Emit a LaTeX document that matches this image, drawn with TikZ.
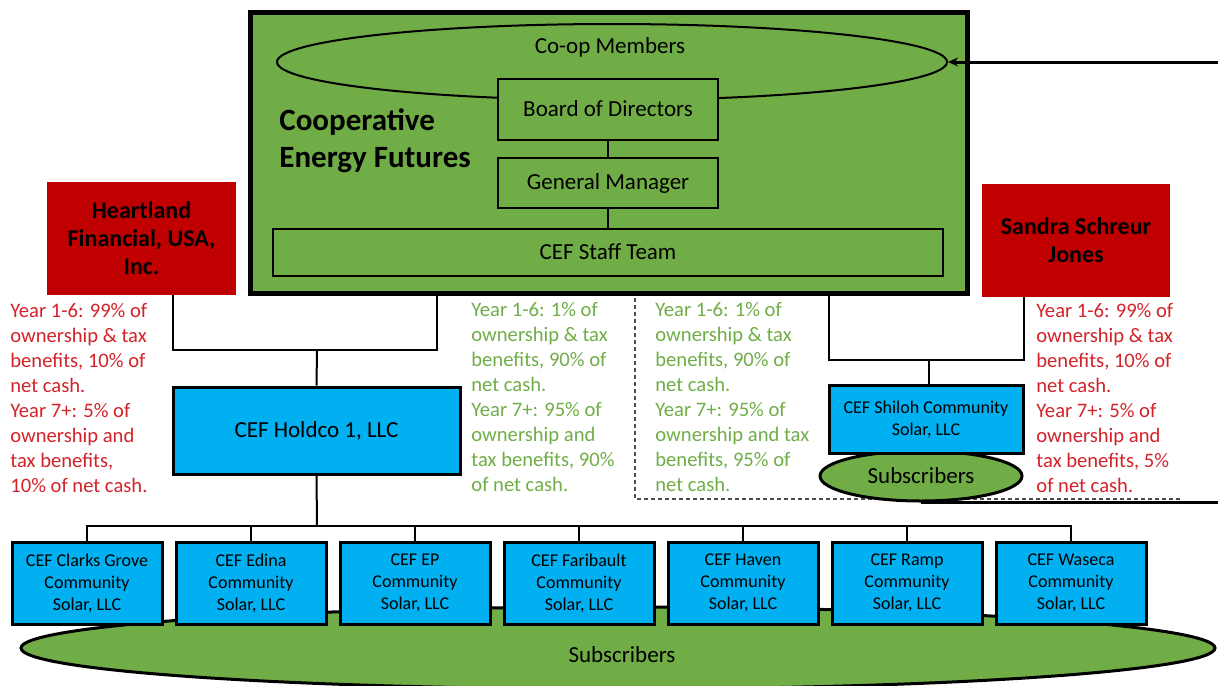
\documentclass[tikz,border=0pt]{standalone}
\usepackage{fontspec}
\setmainfont{Carlito}
\usetikzlibrary{arrows.meta, shapes.geometric}
\definecolor{cefgreen}{HTML}{70AD47}
\definecolor{cefblue}{HTML}{00B0F0}
\definecolor{cefred}{HTML}{C00000}
\definecolor{notered}{HTML}{D2232A}
\definecolor{notegreen}{HTML}{70AD47}
\tikzset{
    >=Stealth,
    orgbox/.style={draw, fill=cefgreen, line width=1pt, inner sep=0pt, font=\fontsize{11.5}{14}\selectfont},
    llcbox/.style={draw, fill=cefblue, line width=1.5pt, inner sep=0pt, align=center, font=\fontsize{9}{11}\selectfont},
    partner/.style={fill=cefred, inner sep=0pt, align=center, font=\fontsize{12}{14}\selectfont\bfseries},
    share/.style={anchor=north west, inner sep=0pt, align=left, font=\fontsize{10.3}{12.5}\selectfont},
    crowd/.style={ellipse, draw, fill=cefgreen, line width=1.5pt, inner sep=0pt, font=\fontsize{11.5}{14}\selectfont},
    link/.style={line width=1pt}
}

\begin{document}
\begin{tikzpicture}[x=0.5pt, y=-0.5pt]

    \useasboundingbox (0,0) rectangle (1218,685);
    \clip (0,0) rectangle (1218,685);

    % the cooperative itself
    \node[draw, fill=cefgreen, line width=2.5pt, inner sep=0pt,
        minimum width=358.5pt, minimum height=140.5pt] (cef) at (609,152.5) {};
    \node[crowd, line width=1pt, minimum width=335pt, minimum height=38pt] (members) at (612,62) {};
    \node[font=\fontsize{11.5}{14}\selectfont] (memberstext) at (610,47) {Co-op Members};
    \node[orgbox, minimum width=110pt, minimum height=30.5pt] (board) at (608,109) {Board of Directors};
    \node[orgbox, minimum width=110pt, minimum height=25pt] (gm) at (608,183) {General Manager};
    \node[orgbox, minimum width=335pt, minimum height=23.5pt] (staff) at (608,252) {CEF Staff Team};
    \node[anchor=west, align=left, inner sep=0pt, font=\fontsize{15.5}{18.5}\selectfont\bfseries]
        (ceftitle) at (279,141) {Cooperative\\Energy Futures};
    \draw[link] (board) -- (gm);
    \draw[link] (gm) -- (staff);

    % investors
    \node[partner, minimum width=94.5pt, minimum height=56.5pt] (hfin) at (141.5,238.5) {Heartland\\Financial, USA,\\Inc.};
    \node[partner, minimum width=94pt, minimum height=56.5pt] (sandra) at (1076,240.5) {Sandra Schreur\\Jones};

    \node[share, text=notered] (hfinshare) at (10,303)
        {Year 1-6: 99\% of\\ownership \& tax\\benefits, 10\% of\\net cash.\\Year 7+: 5\% of\\ownership and\\tax benefits,\\10\% of net cash.};
    \node[share, text=notegreen] (cefshare) at (471,302)
        {Year 1-6: 1\% of\\ownership \& tax\\benefits, 90\% of\\net cash.\\Year 7+: 95\% of\\ownership and\\tax benefits, 90\%\\of net cash.};
    \node[share, text=notegreen] (cefshilohshare) at (655,302)
        {Year 1-6: 1\% of\\ownership \& tax\\benefits, 90\% of\\net cash.\\Year 7+: 95\% of\\ownership and tax\\benefits, 95\% of\\net cash.};
    \node[share, text=notered] (sandrashare) at (1036,303)
        {Year 1-6: 99\% of\\ownership \& tax\\benefits, 10\% of\\net cash.\\Year 7+: 5\% of\\ownership and\\tax benefits, 5\%\\of net cash.};

    % holding company
    \node[llcbox, minimum width=143.5pt, minimum height=43.5pt, font=\fontsize{11.5}{14}\selectfont]
        (holdco) at (316.5,430.5) {CEF Holdco 1, LLC};
    \coordinate (hjoin) at (317,350);
    \draw[link] (hfin.south -| 173,0) |- (hjoin) -| (cef.south -| 437,0);
    \draw[link] (hjoin) -- (holdco.north);

    % Shiloh
    \draw[dashed, line width=0.6pt, gray!60!black, dash pattern=on 2pt off 1.5pt] (635,298) |- (1183,499);
    \coordinate (rimlow) at (1218,501);
    \coordinate (rimhigh) at (1218,62);
    \node[crowd, minimum width=101pt, minimum height=25pt] (localsubs) at (921,476) {Subscribers};
    \draw[line width=1.5pt] (localsubs.south) -- (localsubs.south -| rimlow);
    \node[llcbox, minimum width=97pt, minimum height=34pt] (shiloh) at (926,419) {CEF Shiloh Community\\Solar, LLC};
    \coordinate (sjoin) at (929,360);
    \draw[link] (cef.south -| 829,0) |- (sjoin) -| (sandra.south -| 1024,0);
    \draw[link] (sjoin) -- (sjoin |- shiloh.north);
    \draw[line width=1.5pt, -{Stealth[length=5pt, width=4.5pt]}] (members.east -| rimhigh) -- (members.east);

    % community solar gardens
    \node[crowd, minimum width=597pt, minimum height=41pt] (subscribers) at (618,648) {};
    \node[font=\fontsize{11.5}{14}\selectfont] (subscriberstext) at (622,655) {Subscribers};
    \foreach \site [count=\i] in {Clarks Grove,Edina,EP,Faribault,Haven,Ramp,Waseca}
        \node[llcbox, minimum width=75pt, minimum height=41pt] (site\i) at ({87+164*(\i-1)},583)
            {CEF \site\\Community\\Solar, LLC};
    \coordinate (bus) at (317,526);
    \draw[link] (holdco.south) -- (bus);
    \draw[link] (site1.north) -- ++(0,-15) -| (site7.north);
    \foreach \i in {2,...,6}
        \draw[link] (site\i.north) -- ++(0,-15);

\end{tikzpicture}
\end{document}
